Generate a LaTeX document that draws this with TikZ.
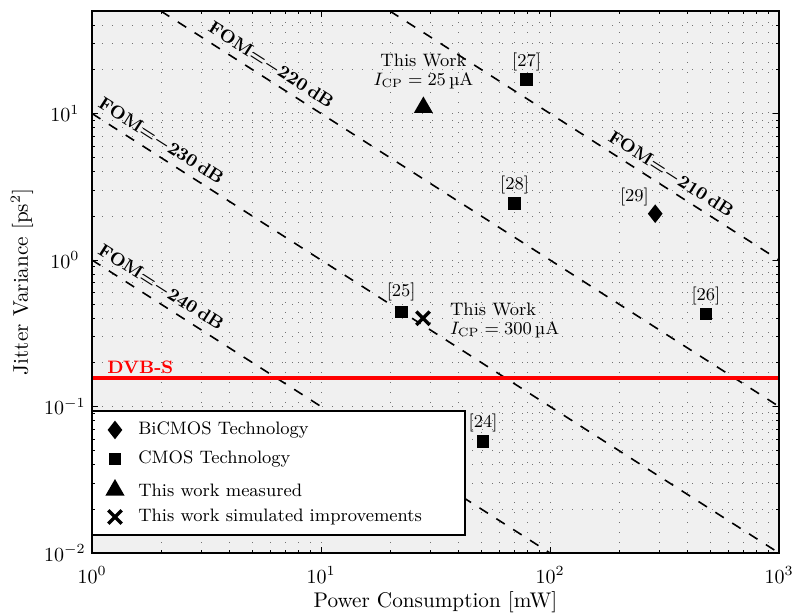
\documentclass[tikz,border=0pt]{standalone}
\usetikzlibrary{shapes.geometric,shapes.misc}

\tikzset{
  griglia/.style={black!55,line width=0.4pt,dash pattern=on 0.45pt off 4.55pt},
  fom/.style={line width=0.8pt,dash pattern=on 5pt off 5pt},
  fomlab/.style={font=\small\bfseries\boldmath,sloped,above=1.5pt,inner sep=1pt},
  quad/.style={fill,minimum size=6.3pt,inner sep=0pt},
  rombo/.style={diamond,fill,minimum width=7.5pt,minimum height=9.5pt,inner sep=0pt},
  tri/.style={regular polygon,regular polygon sides=3,fill,minimum size=11pt,inner sep=0pt},
  croce/.style={cross out,draw,line width=1.7pt,minimum size=5pt,inner sep=0pt},
  rif/.style={font=\fontsize{9}{9.5}\selectfont,inner sep=1pt},
}

\begin{document}
\begin{tikzpicture}[x=114.5pt,y=73.25pt]
\pgfmathsetmacro{\ymax}{log10(50)}
\pgfmathsetmacro{\ydvb}{log10(0.154)}
\useasboundingbox (-0.4017,-2.4164) rectangle (3.0655,1.7747);

\fill[gray!12] (0,-2) rectangle (3,\ymax);

\foreach \d in {0,1,2}
  \foreach \k in {1,...,9}
    \draw[griglia] ({\d+log10(\k)},-2) -- ({\d+log10(\k)},\ymax);
\foreach \d/\kmax in {-2/9,-1/9,0/9,1/5}
  \foreach \k in {1,...,\kmax}
    \draw[griglia] (0,{\d+log10(\k)}) -- (3,{\d+log10(\k)});

\draw[fom] (0,0) -- (2,-2) node[fomlab,pos=0.134] (f240) {FOM${=}{-}240\,$dB};
\draw[fom] (0,1) -- (3,-2) node[fomlab,pos=0.0895] (f230) {FOM${=}{-}230\,$dB};
\draw[fom] ({log10(2)},\ymax) -- (3,-1) node[fomlab,pos=0.166] (f220) {FOM${=}{-}220\,$dB};
\draw[fom] ({log10(20)},\ymax) -- (3,0) node[fomlab,pos=0.703] (f210) {FOM${=}{-}210\,$dB};

\draw[red,line width=2pt] (0,\ydvb) -- (3,\ydvb);
\node[red,font=\small\bfseries,anchor=base west,inner sep=0pt] (dvbs) at (0.0655,-0.778) {DVB-S};

\draw[fill=white,line width=0.7pt] (0,-1.0307) rectangle (1.629,-1.877);
\node[rombo] (l1) at (0.1004,-1.160) {};
\node[quad] (l2) at (0.1004,-1.358) {};
\node[tri] (l3) at (0.1004,-1.570) {};
\node[croce] (l4) at (0.1004,-1.754) {};
\node[rif,anchor=west] (t1) at (0.192,-1.160) {BiCMOS Technology};
\node[rif,anchor=west] (t2) at (0.192,-1.358) {CMOS Technology};
\node[rif,anchor=west] (t3) at (0.192,-1.570) {This work measured};
\node[rif,anchor=west] (t4) at (0.192,-1.754) {This work simulated improvements};

\node[quad] (p27) at ({log10(79)},{log10(17)}) {};
\node[rif,above=0pt] (n27) at (p27.north) {[27]};
\node[quad] (p28) at ({log10(70)},{log10(2.43)}) {};
\node[rif,above=0pt] (n28) at (p28.north) {[28]};
\node[rombo] (p29) at ({log10(288)},{log10(2.07)}) {};
\node[rif,anchor=south east] (n29) at (p29.north west) {[29]};
\node[quad] (p26) at ({log10(480)},{log10(0.428)}) {};
\node[rif,above=0pt] (n26) at (p26.north) {[26]};
\node[quad] (p25) at ({log10(22.4)},{log10(0.443)}) {};
\node[rif,above=1pt] (n25) at (p25.north) {[25]};
\node[quad] (p24) at ({log10(51)},{log10(0.0577)}) {};
\node[rif,above=0pt] (n24) at (p24.north) {[24]};

\node[tri] (tw25) at ({log10(28)},{log10(11)}) {};
\node[rif,align=center,above=2pt] (tw25lab) at (tw25.north) {This Work\\$I_{\mathrm{CP}}=25\,$µA};
\node[croce] (tw300) at ({log10(27.9)},{log10(0.40)}) {};
\node[rif,align=left,anchor=west] (tw300lab) at ([xshift=9pt,yshift=-1pt]tw300.east) {This Work\\$I_{\mathrm{CP}}=300\,$µA};

\foreach \d in {0,1,2,3} {
  \draw (\d,-2) -- ++(0pt,3pt);
  \draw (\d,\ymax) -- ++(0pt,-3pt);
}
\foreach \d in {0,1,2}
  \foreach \k in {2,...,9} {
    \draw ({\d+log10(\k)},-2) -- ++(0pt,1.5pt);
    \draw ({\d+log10(\k)},\ymax) -- ++(0pt,-1.5pt);
  }
\foreach \d in {-2,-1,0,1} {
  \draw (0,\d) -- ++(3pt,0pt);
  \draw (3,\d) -- ++(-3pt,0pt);
}
\foreach \d/\kmax in {-2/9,-1/9,0/9,1/5}
  \foreach \k in {2,...,\kmax} {
    \draw (0,{\d+log10(\k)}) -- ++(1.5pt,0pt);
    \draw (3,{\d+log10(\k)}) -- ++(-1.5pt,0pt);
  }
\draw[line width=0.8pt] (0,-2) rectangle (3,\ymax);

\foreach \e in {0,1,2,3}
  \node (ex\e) at (\e,-2.15) {$10^{\e}$};
\foreach \e [count=\i] in {-2,-1,0,1}
  \node (ey\i) at (-0.118,\e) {$10^{\e}$};

\node[font=\fontsize{10.6}{12}\selectfont] (xlab) at (1.5,-2.334) {Power Consumption [mW]};
\node[font=\fontsize{10.6}{12}\selectfont,rotate=90] (ylab) at (-0.306,-0.15) {Jitter Variance [ps$^2$]};

\end{tikzpicture}
\end{document}
